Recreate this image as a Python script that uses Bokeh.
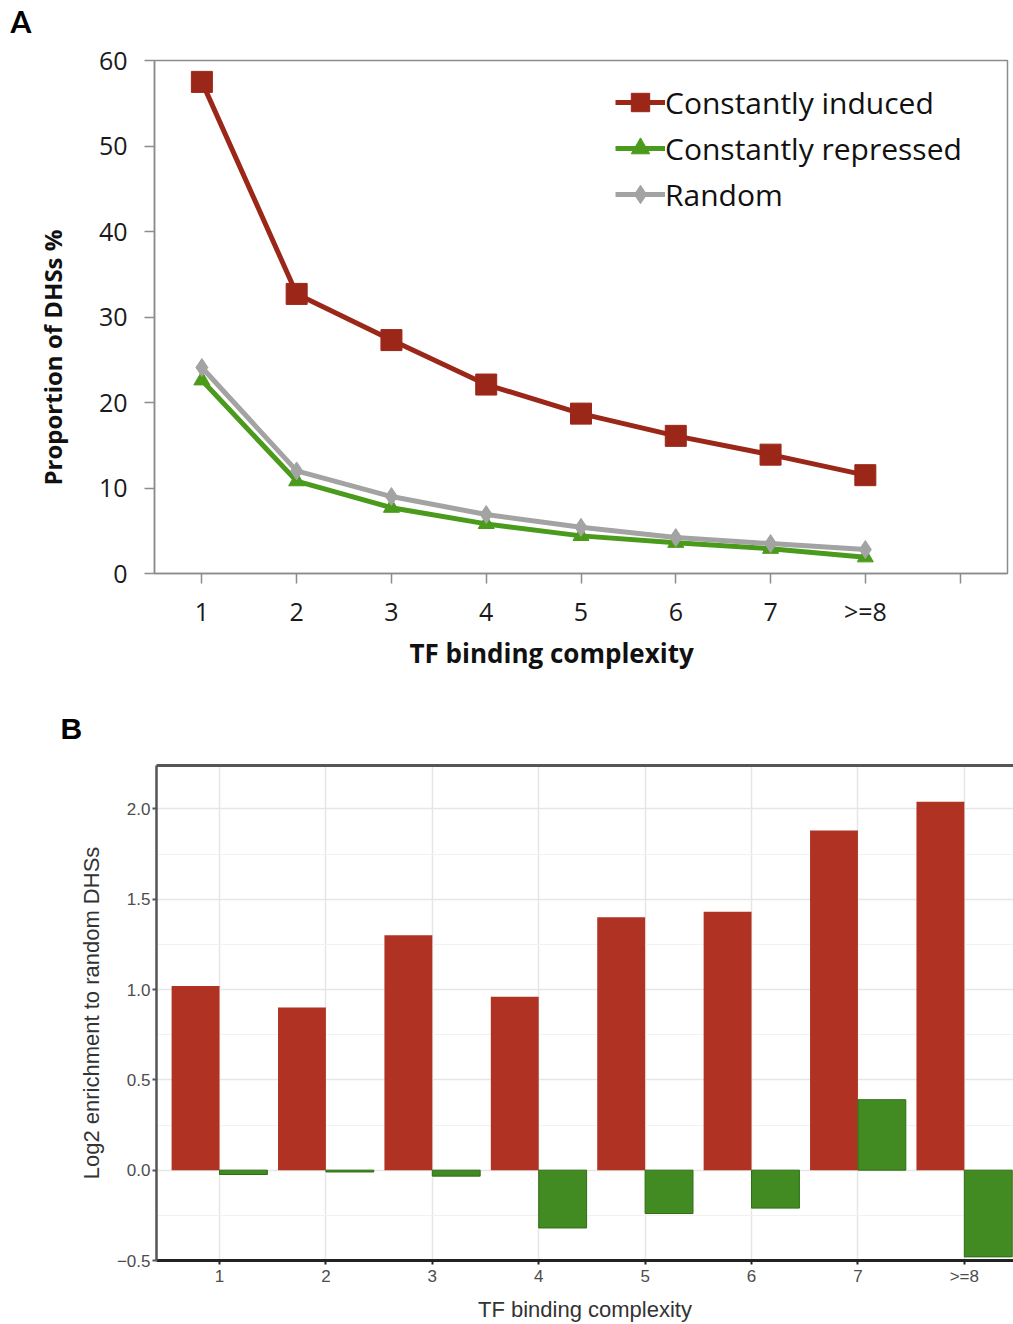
from bokeh.plotting import figure
from bokeh.layouts import column
from bokeh.models import (FixedTicker, Legend, LegendItem, Range1d, Title,
                          LinearAxis, CustomJSTickFormatter)
from bokeh.core.properties import value
from bokeh.embed import file_html
from bokeh.resources import INLINE

# ---------------- data ----------------
complexity = ["1", "2", "3", "4", "5", "6", "7", ">=8"]

# Panel A: proportion of DHSs (%)
induced = [57.5, 32.7, 27.3, 22.1, 18.7, 16.1, 13.9, 11.5]
repressed = [22.6, 10.8, 7.7, 5.8, 4.4, 3.6, 2.9, 1.9]
random_dhs = [24.1, 12.0, 9.0, 6.9, 5.4, 4.2, 3.5, 2.8]

# Panel B: log2 enrichment to random DHSs
enrich_induced = [1.02, 0.90, 1.30, 0.96, 1.40, 1.43, 1.88, 2.04]
enrich_repressed = [-0.024, -0.01, -0.033, -0.32, -0.24, -0.21, 0.39, -0.48]

y_ticks_a = [0, 10, 20, 30, 40, 50, 60]
y_ticks_b = [-0.5, 0.0, 0.5, 1.0, 1.5, 2.0]
y_minor_b = [-0.25, 0.25, 0.75, 1.25, 1.75]

xs = list(range(1, len(complexity) + 1))

RED_A = "#9B2719"
GREEN_A = "#4A9A1C"
GRAY_A = "#A3A3A3"
RED_B = "#B03223"
GREEN_B = "#418B22"

FONT_A = "Open Sans"
FONT_B = "Liberation Sans"
W = 1013


def no_align(p):
    try:
        p.frame_align = False
    except Exception:
        pass


def header(height, letter, lx, ly, font):
    h = figure(width=W, height=height, x_range=Range1d(0, W), y_range=Range1d(height, 0),
               x_axis_type=None, y_axis_type=None, output_backend="svg",
               toolbar_location=None, min_border=0)
    no_align(h)
    h.outline_line_color = None
    h.background_fill_color = "white"
    h.text(x=[lx], y=[ly], text=[letter], text_baseline="top", text_align="left",
           text_font=value(font), text_font_style="bold", text_font_size="30px",
           text_color="#000000")
    return h


headA = header(40, "A", 10, 2, "Lato")

# ---------------- Panel A ----------------
pA = figure(width=W, height=650, x_range=Range1d(0.5, 9.5), y_range=Range1d(0, 60),
            output_backend="svg", toolbar_location=None,
            min_border_left=154, min_border_right=6, min_border_top=20, min_border_bottom=117)
no_align(pA)
pA.xgrid.grid_line_color = None
pA.ygrid.grid_line_color = None
pA.outline_line_color = "#8C8C8C"
pA.outline_line_width = 1.5
pA.background_fill_color = "white"

for ax in (pA.xaxis, pA.yaxis):
    ax.axis_line_color = "#8C8C8C"
    ax.axis_line_width = 1.5
    ax.major_tick_line_color = "#8C8C8C"
    ax.major_tick_line_width = 1.5
    ax.major_tick_out = 10
    ax.major_tick_in = 0
    ax.minor_tick_line_color = None
    ax.major_label_text_font = FONT_A
    ax.major_label_text_font_size = "25px"
    ax.major_label_text_color = "#1a1a1a"

pA.xaxis.ticker = FixedTicker(ticks=xs + [len(xs) + 1])
ov = {x: lab for x, lab in zip(xs, complexity)}
ov[len(xs) + 1] = ""
pA.xaxis.major_label_overrides = ov
pA.xaxis.major_label_standoff = 10
pA.yaxis.ticker = FixedTicker(ticks=y_ticks_a)
pA.yaxis.major_label_standoff = 17

r_ind_l = pA.line(xs, induced, line_color=RED_A, line_width=5)
r_ind_m = pA.scatter(xs, induced, marker="square", size=21, fill_color=RED_A, line_color=RED_A)
r_rep_l = pA.line(xs, repressed, line_color=GREEN_A, line_width=5)
r_rep_m = pA.scatter(xs, repressed, marker="triangle", size=16, fill_color=GREEN_A, line_color=GREEN_A)
r_ran_l = pA.line(xs, random_dhs, line_color=GRAY_A, line_width=5)
r_ran_m = pA.scatter(xs, random_dhs, marker="diamond", size=18, fill_color=GRAY_A, line_color=GRAY_A)

legend = Legend(items=[
    LegendItem(label="Constantly induced", renderers=[r_ind_l, r_ind_m]),
    LegendItem(label="Constantly repressed", renderers=[r_rep_l, r_rep_m]),
    LegendItem(label="Random", renderers=[r_ran_l, r_ran_m]),
], location=(461, 356))
legend.border_line_color = None
legend.background_fill_alpha = 0
legend.padding = 0
legend.margin = 0
legend.spacing = 0
legend.glyph_width = 50
legend.glyph_height = 46
legend.label_height = 46
legend.label_standoff = 0
legend.label_text_font = FONT_A
legend.label_text_font_size = "30px"
legend.label_text_color = "#111111"
pA.add_layout(legend)

pA.add_layout(Title(text="TF binding complexity", align="left", offset=255, standoff=4,
                    text_font=FONT_A, text_font_style="bold", text_font_size="26px",
                    text_color="#111111"), "below")
pA.add_layout(Title(text="Proportion of DHSs %", align="left", offset=88, standoff=54,
                    text_font=FONT_A, text_font_style="bold", text_font_size="24px",
                    text_color="#111111"), "left")

headB = header(60, "B", 60, 21, FONT_B)

# ---------------- Panel B ----------------
pB = figure(width=W, height=574, x_range=Range1d(0.408, 8.462), y_range=Range1d(-0.5, 2.24),
            output_backend="svg", toolbar_location=None,
            min_border_left=156, min_border_right=0, min_border_top=15, min_border_bottom=61)
no_align(pB)
pB.outline_line_color = None
pB.background_fill_color = "white"

pB.vbar(x=[x - 0.225 for x in xs], width=0.45, top=enrich_induced, bottom=0,
        fill_color=RED_B, line_color=None)
pB.vbar(x=[x + 0.225 for x in xs], width=0.45, top=enrich_repressed, bottom=0,
        fill_color=GREEN_B, line_color="#2F6E14", line_width=1)

pB.xaxis.ticker = FixedTicker(ticks=xs)
pB.xaxis.major_label_overrides = {x: lab for x, lab in zip(xs, complexity)}
pB.yaxis.ticker = FixedTicker(ticks=y_ticks_b, minor_ticks=y_minor_b)
pB.yaxis.formatter = CustomJSTickFormatter(
    code="return tick < 0 ? '\\u2212' + Math.abs(tick).toFixed(1) : tick.toFixed(1);")

pB.xgrid.grid_line_color = "#E6E6E6"
pB.xgrid.grid_line_width = 1.5
pB.ygrid.grid_line_color = "#E6E6E6"
pB.ygrid.grid_line_width = 1.5
pB.ygrid.minor_grid_line_color = "#F2F2F2"
pB.ygrid.minor_grid_line_width = 1.2

for ax in (pB.xaxis, pB.yaxis):
    ax.major_tick_out = 4
    ax.major_tick_in = 0
    ax.minor_tick_line_color = None
    ax.major_label_text_font = FONT_B
    ax.major_label_text_font_size = "17px"
    ax.major_label_text_color = "#4D4D4D"
    ax.axis_label_text_font = FONT_B
    ax.axis_label_text_font_style = "normal"
    ax.axis_label_text_font_size = "22px"
    ax.axis_label_text_color = "#333333"
    ax.major_label_standoff = 2

pB.xaxis.axis_line_color = "#222222"
pB.xaxis.axis_line_width = 3
pB.xaxis.major_tick_line_color = "#222222"
pB.xaxis.major_tick_line_width = 2
pB.xaxis.axis_label = "TF binding complexity"
pB.xaxis.axis_label_standoff = 8

pB.yaxis.axis_line_color = "#555555"
pB.yaxis.axis_line_width = 2.5
pB.yaxis.major_tick_line_color = "#555555"
pB.yaxis.major_tick_line_width = 2
pB.yaxis.axis_label = "Log2 enrichment to random DHSs"
pB.yaxis.axis_label_standoff = 10

top_axis = LinearAxis(ticker=FixedTicker(ticks=[]), axis_line_color="#555555",
                      axis_line_width=3, major_tick_line_color=None,
                      minor_tick_line_color=None, major_tick_out=0, major_tick_in=0,
                      major_label_standoff=0)
pB.add_layout(top_axis, "above")

layout = column(headA, pA, headB, pB, spacing=0)
open("out.html", "w").write(file_html(layout, INLINE))
